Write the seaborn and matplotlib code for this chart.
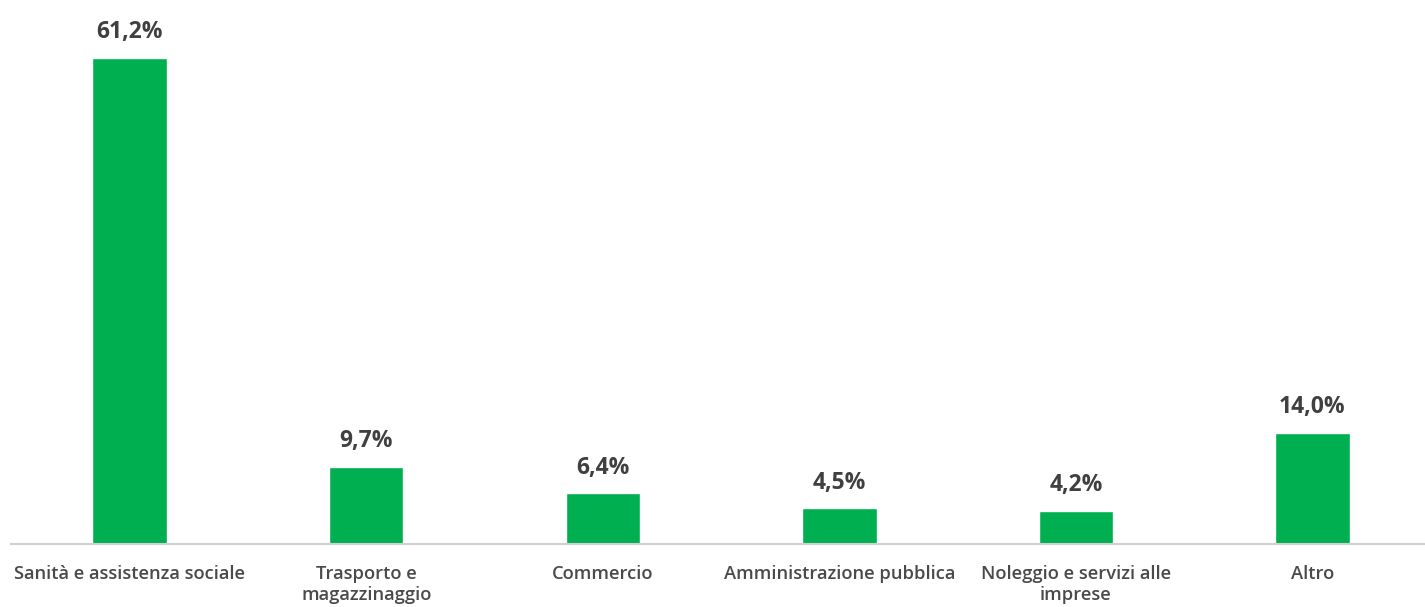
import matplotlib
matplotlib.use("Agg")
import matplotlib.pyplot as plt
import seaborn as sns
import pandas as pd

categories = ["Sanità e assistenza sociale", "Trasporto e\nmagazzinaggio", "Commercio",
              "Amministrazione pubblica", "Noleggio e servizi alle\nimprese", "Altro"]
values = [61.2, 9.7, 6.4, 4.5, 4.2, 14.0]
labels = ["61,2%", "9,7%", "6,4%", "4,5%", "4,2%", "14,0%"]

sns.set_theme(style="white")
plt.rcParams['font.family'] = ['Open Sans', 'DejaVu Sans']

df = pd.DataFrame({"cat": categories, "val": values})
fig = plt.figure(figsize=(14.25, 6.07), dpi=100)
ax = fig.add_axes([0.008, 0.104, 0.996, 0.896])
sns.barplot(data=df, x="cat", y="val", color="#00B050", width=0.315, ax=ax, saturation=1)

for i, (v, l) in enumerate(zip(values, labels)):
    ax.text(i, v + 1.7, l, ha="center", va="bottom", fontsize=16.5, fontweight="bold", color="#404040")

ax.set_ylim(0, 68.5)
ax.set_xlim(-0.5, 5.5)
ax.set_xlabel("")
ax.set_ylabel("")
ax.set_yticks([])
for s in ["top", "left", "right"]:
    ax.spines[s].set_visible(False)
ax.spines["bottom"].set_color("#D0D0D0")
ax.spines["bottom"].set_linewidth(1.5)
ax.tick_params(axis="x", length=0, pad=15, labelsize=13.2, labelcolor="#4a4a4a")
for t in ax.get_xticklabels():
    t.set_linespacing(1.25)
    t.set_va("top")
    t.set_fontweight("semibold")

fig.savefig("out.png", dpi=100)
